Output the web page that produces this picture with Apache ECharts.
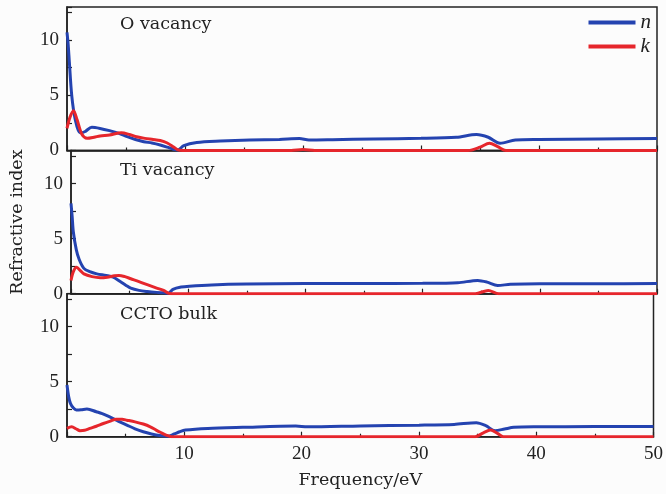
<!DOCTYPE html>
<html>
<head>
<meta charset="utf-8">
<script src="https://cdn.jsdelivr.net/npm/echarts@6/dist/echarts.min.js"></script>
<style>
  html, body { margin: 0; padding: 0; background: #fcfcfc; }
  #chart { width: 666px; height: 494px; }
</style>
</head>
<body>
<div id="chart"></div>
<script>
// Panel titles
const panelNames = ['O vacancy', 'Ti vacancy', 'CCTO bulk'];
const xTickLabels = [10, 20, 30, 40, 50];

// O vacancy: refractive index n and extinction coefficient k vs photon energy (eV)
const oVacE_n = [0, 0.1, 0.2, 0.4, 0.7, 1.1, 1.5, 2.1, 2.8, 3.6, 4.4, 5.1, 5.8, 6.5, 7.2, 7.9, 8.5, 9.0, 9.4, 9.9, 11, 13, 15.5, 18, 19.7, 20.5, 22.5, 26, 30, 33, 34.7, 35.7, 36.7, 38, 40, 45, 50];
const oVacN   = [10.7, 9.6, 8.0, 5.0, 2.8, 1.6, 1.7, 2.1, 2.0, 1.8, 1.55, 1.25, 1.0, 0.8, 0.68, 0.5, 0.3, 0.12, 0.05, 0.45, 0.72, 0.85, 0.95, 1.0, 1.08, 0.95, 0.98, 1.05, 1.1, 1.2, 1.45, 1.2, 0.65, 0.95, 1.0, 1.05, 1.08];
const oVacE_k = [0, 0.25, 0.55, 0.85, 1.25, 1.7, 2.3, 2.8, 3.6, 4.6, 5.3, 5.9, 6.6, 7.3, 7.9, 8.5, 9.0, 9.4, 9.8, 19, 20, 21, 34, 35, 35.8, 36.5, 37.2, 50];
const oVacK   = [2.0, 3.0, 3.6, 2.8, 1.5, 1.1, 1.2, 1.32, 1.4, 1.6, 1.45, 1.25, 1.1, 1.0, 0.9, 0.68, 0.35, 0.05, 0, 0, 0.08, 0, 0, 0.3, 0.66, 0.35, 0, 0];

// Ti vacancy
const tiVacE_n = [0, 0.1, 0.2, 0.45, 0.7, 1.1, 1.6, 2.2, 3.0, 3.6, 4.2, 4.7, 5.1, 5.8, 6.5, 7.3, 7.9, 8.3, 8.7, 9.4, 10.1, 12, 15, 20, 25, 30, 33, 34.7, 35.5, 36.4, 37.5, 40, 45, 50];
const tiVacN   = [8.2, 7.0, 5.6, 4.0, 3.1, 2.3, 2.0, 1.8, 1.65, 1.5, 1.1, 0.75, 0.5, 0.3, 0.2, 0.12, 0.08, 0.05, 0.4, 0.6, 0.68, 0.8, 0.88, 0.92, 0.92, 0.94, 1.0, 1.2, 1.05, 0.75, 0.85, 0.9, 0.9, 0.92];
const tiVacE_k = [0, 0.2, 0.48, 0.8, 1.1, 1.8, 2.5, 3.1, 3.7, 4.1, 4.6, 5.1, 5.8, 6.5, 7.2, 7.9, 8.3, 8.6, 34.5, 35.6, 36.5, 50];
const tiVacK   = [1.2, 2.0, 2.4, 2.1, 1.8, 1.55, 1.45, 1.5, 1.62, 1.66, 1.55, 1.36, 1.1, 0.82, 0.55, 0.3, 0.05, 0, 0, 0.3, 0, 0];

// CCTO bulk
const bulkE_n = [0, 0.15, 0.3, 0.55, 0.8, 1.2, 1.7, 2.5, 3.0, 3.6, 4.4, 5.1, 5.8, 6.5, 7.2, 7.9, 8.6, 9.15, 9.6, 10.1, 12, 15, 19.5, 20.5, 25, 30, 33, 34.9, 35.7, 36.5, 37.3, 38.1, 40, 45, 50];
const bulkN   = [4.7, 3.6, 3.0, 2.6, 2.43, 2.45, 2.52, 2.27, 2.1, 1.82, 1.4, 1.06, 0.72, 0.45, 0.25, 0.1, 0.03, 0.25, 0.45, 0.6, 0.75, 0.85, 0.97, 0.9, 0.98, 1.05, 1.12, 1.27, 1.0, 0.55, 0.7, 0.85, 0.9, 0.92, 0.92];
const bulkE_k = [0, 0.4, 0.8, 1.1, 1.5, 1.95, 2.5, 3.1, 3.7, 4.2, 4.7, 5.1, 5.8, 6.5, 7.1, 7.6, 8.0, 8.45, 8.9, 34.8, 35.5, 36.1, 36.7, 37.2, 50];
const bulkK   = [0.75, 0.9, 0.7, 0.55, 0.58, 0.75, 0.95, 1.2, 1.42, 1.58, 1.58, 1.5, 1.35, 1.15, 0.9, 0.6, 0.38, 0.15, 0, 0, 0.35, 0.6, 0.3, 0, 0];

const panels = [
  { e_n: oVacE_n, n: oVacN, e_k: oVacE_k, k: oVacK },
  { e_n: tiVacE_n, n: tiVacN, e_k: tiVacE_k, k: tiVacK },
  { e_n: bulkE_n, n: bulkN, e_k: bulkE_k, k: bulkK }
];

const BLUE = '#2443b0';
const RED = '#e6262c';
const AXIS = '#222';
const NUM_FONT = 'Liberation Serif';
const TXT_FONT = 'DejaVu Serif';

const zip = (xs, ys) => xs.map((x, i) => [x, ys[i]]);

const grids = [
  { left: 67, right: 9, top: 7, height: 143.5 },
  { left: 67, right: 9, top: 150.5, height: 143.2 },
  { left: 67, right: 9, top: 293.7, height: 143 }
].map(g => Object.assign(g, { show: true, borderColor: AXIS, borderWidth: 1.5, backgroundColor: 'transparent' }));

const xAxes = grids.map((g, i) => ({
  type: 'value', gridIndex: i, min: 0, max: 50, interval: 10,
  axisLine: { lineStyle: { color: AXIS, width: 1.5 } },
  axisTick: { inside: true, length: 5, lineStyle: { color: AXIS, width: 1.2 } },
  minorTick: { show: true, splitNumber: 2, length: 3, lineStyle: { color: AXIS, width: 1.2 } },
  splitLine: { show: false },
  axisLabel: {
    show: i === 2, margin: 8,
    fontFamily: NUM_FONT, fontSize: 19, color: AXIS,
    formatter: v => (xTickLabels.indexOf(v) >= 0 ? String(v) : '')
  },
  name: i === 2 ? 'Frequency/eV' : '',
  nameLocation: 'middle', nameGap: 35,
  nameTextStyle: { fontFamily: TXT_FONT, fontSize: 17.5, color: AXIS }
}));

const yAxes = grids.map((g, i) => ({
  type: 'value', gridIndex: i, min: 0, max: 13, interval: 2.5,
  axisLine: { show: true, lineStyle: { color: AXIS, width: 1.5 } },
  axisTick: { inside: true, length: 5, lineStyle: { color: AXIS, width: 1.2 } },
  splitLine: { show: false },
  axisLabel: {
    margin: 8, fontFamily: NUM_FONT, fontSize: 19, color: AXIS,
    formatter: v => (v % 5 === 0 ? String(v) : '')
  },
  name: i === 1 ? 'Refractive index' : '',
  nameLocation: 'middle', nameGap: 45,
  nameTextStyle: { fontFamily: TXT_FONT, fontSize: 17.5, color: AXIS }
}));

const series = [];
panels.forEach((p, i) => {
  series.push({
    name: 'n', type: 'line', xAxisIndex: i, yAxisIndex: i,
    data: zip(p.e_n, p.n), smooth: 0.3,
    showSymbol: false, symbol: 'none',
    lineStyle: { color: BLUE, width: 3 }, itemStyle: { color: BLUE },
    clip: true, animation: false
  });
  series.push({
    name: 'k', type: 'line', xAxisIndex: i, yAxisIndex: i,
    data: zip(p.e_k, p.k), smooth: 0.3,
    showSymbol: false, symbol: 'none',
    lineStyle: { color: RED, width: 3 }, itemStyle: { color: RED },
    clip: true, animation: false
  });
});

const labelY = [24, 170, 314];
const graphic = panelNames.map((t, i) => ({
  type: 'text', x: 120, y: labelY[i], z: 10,
  style: { text: t, font: '17.5px "' + TXT_FONT + '"', fill: AXIS, verticalAlign: 'middle' }
}));

const chart = echarts.init(document.getElementById('chart'), null, { renderer: 'canvas' });
chart.setOption({
  backgroundColor: '#fcfcfc',
  animation: false,
  grid: grids,
  xAxis: xAxes,
  yAxis: yAxes,
  series: series,
  graphic: graphic,
  legend: {
    data: ['n', 'k'], orient: 'vertical', right: 10, top: 7,
    icon: 'rect', itemWidth: 47, itemHeight: 4, itemGap: 3,
    textStyle: { fontFamily: NUM_FONT, fontStyle: 'italic', fontSize: 21, color: AXIS, lineHeight: 20 }
  }
});
</script>
</body>
</html>
